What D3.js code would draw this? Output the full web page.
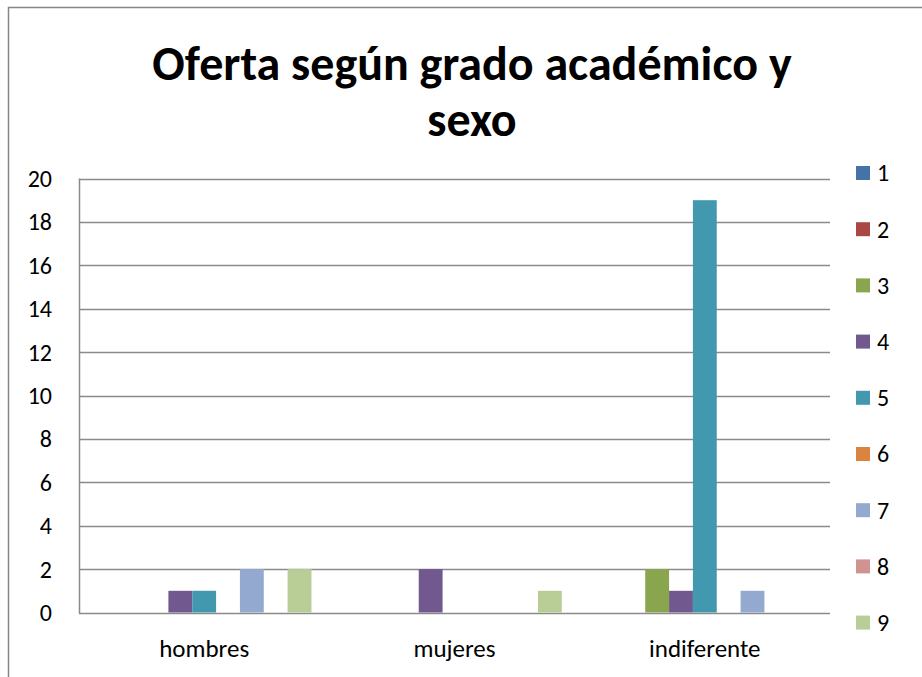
<!DOCTYPE html>
<html><head><meta charset="utf-8">
<script src="https://cdn.jsdelivr.net/npm/d3@7"></script>
<style>html,body{margin:0;padding:0;background:#fff;} svg{display:block;}</style>
</head><body>
<script>
const categories = ["hombres", "mujeres", "indiferente"];
const seriesNames = ["1","2","3","4","5","6","7","8","9"];
const s1 = [0,0,0];
const s2 = [0,0,0];
const s3 = [0,0,2];
const s4 = [1,2,1];
const s5 = [1,0,19];
const s6 = [0,0,0];
const s7 = [2,0,1];
const s8 = [0,0,0];
const s9 = [2,1,0];
const seriesValues = [s1,s2,s3,s4,s5,s6,s7,s8,s9];
const colors = ["#4572A7","#AA4643","#89A54E","#71588F","#4198AF","#DB843D","#93A9CF","#D19392","#B9CD96"];
const yTicks = [0,2,4,6,8,10,12,14,16,18,20];
const titleLines = ["Oferta según grado académico y", "sexo"];

const W = 922, H = 677;
const font = "Carlito, Calibri, Lato, 'Open Sans', sans-serif";
const svg = d3.select("body").append("svg").attr("width", W).attr("height", H);
svg.append("rect").attr("width", W).attr("height", H).attr("fill", "#fff");
svg.append("rect").attr("x", 8.5).attr("y", 7.5).attr("width", 940).attr("height", 720)
  .attr("fill", "none").attr("stroke", "#868686").attr("stroke-width", 1.5);

const plot = {left: 79, right: 830, top: 178.5, bottom: 612.5};
const x0 = d3.scaleBand().domain(categories).range([plot.left, plot.right]).paddingInner(0).paddingOuter(0);
const x1 = d3.scaleBand().domain(seriesNames).range([0, x0.bandwidth()]).paddingInner(0).paddingOuter(0.75);
const y = d3.scaleLinear().domain([0, 20]).range([plot.bottom, plot.top]);

// gridlines
svg.append("g").selectAll("line").data(yTicks).join("line")
  .attr("x1", plot.left).attr("x2", plot.right)
  .attr("y1", d => Math.round(y(d)) + 0.5).attr("y2", d => Math.round(y(d)) + 0.5)
  .attr("stroke", "#8a8a8a").attr("stroke-width", 1.5);
// y axis line
svg.append("line").attr("x1", plot.left + 0.5).attr("x2", plot.left + 0.5)
  .attr("y1", plot.top).attr("y2", plot.bottom + 1)
  .attr("stroke", "#8a8a8a").attr("stroke-width", 1.5);

// bars
const groups = svg.append("g").selectAll("g").data(categories).join("g")
  .attr("transform", d => `translate(${x0(d)},0)`);
groups.selectAll("rect").data((c, ci) => seriesNames.map((s, si) => ({s, v: seriesValues[si][ci], color: colors[si]})))
  .join("rect")
  .attr("x", d => x1(d.s))
  .attr("width", x1.bandwidth())
  .attr("y", d => y(d.v))
  .attr("height", d => y(0) - y(d.v))
  .attr("fill", d => d.color);

// y tick labels
svg.append("g").selectAll("text").data(yTicks).join("text")
  .attr("x", 52).attr("y", d => y(d)).attr("dy", "0.35em")
  .attr("text-anchor", "end").attr("font-family", font).attr("font-size", 24).attr("fill", "#000")
  .text(d => d);

// category labels
svg.append("g").selectAll("text").data(categories).join("text")
  .attr("x", d => x0(d) + x0.bandwidth() / 2).attr("y", 657)
  .attr("text-anchor", "middle").attr("font-family", font).attr("font-size", 25).attr("fill", "#000")
  .text(d => d);

// title
svg.append("g").selectAll("text").data(titleLines).join("text")
  .attr("x", 472).attr("y", (d, i) => 80 + i * 56)
  .attr("text-anchor", "middle").attr("font-family", font).attr("font-weight", "bold")
  .attr("font-size", 48).attr("fill", "#000")
  .text(d => d);

// legend
const leg = svg.append("g").selectAll("g").data(seriesNames).join("g")
  .attr("transform", (d, i) => `translate(856,${173 + i * 56.2})`);
leg.append("rect").attr("x", 0).attr("y", -7).attr("width", 14).attr("height", 14)
  .attr("fill", (d, i) => colors[i]);
leg.append("text").attr("x", 21).attr("y", 0).attr("dy", "0.35em")
  .attr("font-family", font).attr("font-size", 24).attr("fill", "#000").text(d => d);
</script>
</body></html>
